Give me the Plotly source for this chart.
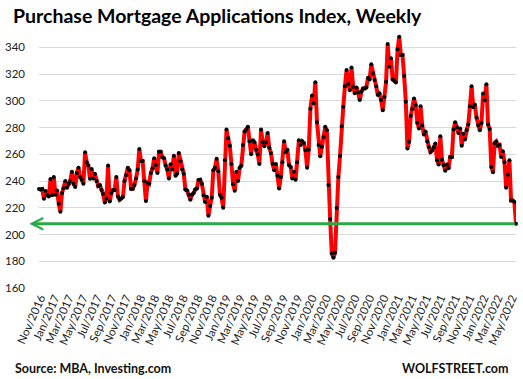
import pandas as pd
import plotly.graph_objects as go

# Weekly MBA Purchase Index values, split by period
idx_part1 = [234, 233.6, 234, 226.7, 232.6, 229.4, 228.4, 241.5, 229.4, 243,
             229.8, 233, 223, 217, 231, 234.6, 240, 235, 237.8, 240,
             247, 238, 235.6, 246, 250, 243, 241, 238, 261.5, 254,
             251.6, 241.7, 249, 242, 245.4, 240, 236.3, 236.8, 233.3, 230.4,
             224, 227, 251.6, 224.7, 231, 233.3, 233.3, 243, 228.4, 226,
             227, 228, 240, 244.4, 250, 248, 234.3, 234.3, 237, 242,
             248.6, 264, 255, 255, 240, 225, 238.8, 238, 246, 249.4,
             257, 252, 246, 262, 262, 257.8, 257, 251.6, 248.6, 242,
             252.6, 248.6, 259, 244, 245.7, 261]
idx_part2 = [255, 248.6, 245.5, 233.7, 233, 229.8, 226, 229.8, 231, 233.7,
             234.5, 240.7, 241, 238, 229.3, 224.3, 228.3, 214, 221.3, 227.5,
             248, 250, 256.6, 247.4, 229.8, 227.5, 220]
idx_part3 = [255.5, 278.5, 272, 266.5, 252.7, 237.7, 232.7, 247, 240, 250,
             251.5, 267, 277, 278.5, 280.7, 269.7, 260, 270.5, 269, 263.5,
             260, 252.7, 278.5, 269, 266, 269, 276, 265, 261, 253,
             248, 252.7, 244, 234.5, 243, 254, 269.7, 261.5, 263.5, 252,
             250.5, 242, 247, 241, 254, 270.5, 267, 269.7, 268.5, 263,
             250, 263.5]
idx_part4 = [294, 304, 298, 314, 284, 267, 258.5, 265.7, 273, 280.6,
             278, 237, 211.6, 185.9, 182.6, 186.4, 219.8, 243, 258.7, 281,
             295.6, 311, 323, 312.6, 308, 325, 310.6, 305.6, 310, 306.3,
             300.6, 306.8, 309.3, 309.3, 310, 317.3, 316, 327.3, 320.5, 315.6,
             311, 304.3, 305.6, 300.6, 293, 303, 314.3, 342.5, 325.5, 331.8,
             316, 315, 313.8, 338.5, 348, 334.3, 334.3, 318.6, 299.4, 264.4,
             269.4, 288.6, 293.9, 301.8, 296.9, 283.6, 279.4]
idx_part5 = [296, 281.5, 274.8, 277, 269.5, 265.5, 261.8, 262.8, 265.3, 268,
             255.5, 252.3, 273.5, 256, 251.8, 247.8, 252.3, 249.5, 258, 258,
             278.5, 284, 280.5, 276, 279.3, 266.5, 275.3, 271, 278, 282.3,
             296, 311, 295.3, 297.3, 287.5, 281.5, 278, 283.5, 305.5, 300.5,
             312.5, 282.3, 279, 250.5, 246.5, 268.3, 269.5, 266.5, 267, 258,
             262.3, 254, 235, 244.8, 255.5, 225.5, 225.5, 224.3, 208]

index_values = idx_part1 + idx_part2 + idx_part3 + idx_part4 + idx_part5
first_week = "2016-10-26"
weeks = pd.date_range(first_week, periods=len(index_values), freq="7D")

# x tick labels (every two months)
tick_dates = pd.date_range("2016-11-01", "2022-05-01", freq="2MS")
tick_labels = [d.strftime("%b/%Y") for d in tick_dates]

y_ticks = list(range(160, 341, 20))
latest_level = 208

FONT = "Lato"
TXT = "#222222"

fig = go.Figure()
fig.add_trace(go.Scatter(
    x=weeks, y=index_values, mode="lines+markers",
    line=dict(color="#FF0000", width=4),
    marker=dict(color="#000000", size=4),
    hoverinfo="x+y", showlegend=False, cliponaxis=False,
))

fig.add_annotation(
    xref="paper", yref="y", x=-9.7 / 477, y=latest_level,
    axref="pixel", ayref="pixel", ax=487, ay=0,
    text="", showarrow=True, arrowhead=5, arrowsize=0.75, arrowwidth=3,
    arrowcolor="#2BA84A",
)

fig.add_annotation(
    xref="paper", yref="paper", x=-26 / 477, y=-80.3 / 253.7,
    xanchor="left", yanchor="middle", showarrow=False,
    text="<b>Source: MBA, Investing.com</b>",
    font=dict(family=FONT, size=12.5, color="#111111"),
)
fig.add_annotation(
    xref="paper", yref="paper", x=(511 - 39) / 477, y=-80.3 / 253.7,
    xanchor="right", yanchor="middle", showarrow=False,
    text="<b>WOLFSTREET.com</b>",
    font=dict(family=FONT, size=12.5, color="#111111"),
)

fig.update_layout(
    width=523, height=379,
    margin=dict(l=39, r=7, t=34, b=91.3),
    paper_bgcolor="white", plot_bgcolor="white",
    font=dict(family=FONT, size=12, color=TXT),
    title=dict(
        text="<b>Purchase Mortgage Applications Index, Weekly</b>",
        x=13 / 523, xanchor="left", xref="container",
        y=1 - 16 / 379, yanchor="middle", yref="container",
        font=dict(family=FONT, size=19.5, color="#000000"),
    ),
    xaxis=dict(
        type="date", range=[weeks[0], weeks[-1]], automargin=False,
        tickvals=tick_dates, ticktext=tick_labels, tickangle=-66,
        showgrid=False, zeroline=False, showline=False, ticks="",
        tickfont=dict(family=FONT, size=11.5, color=TXT),
    ),
    yaxis=dict(
        range=[160, 350], tickvals=y_ticks, automargin=False,
        showgrid=True, gridcolor="#D9D9D9", gridwidth=1,
        zeroline=False, showline=False, ticks="",
        ticklabelstandoff=13,
        tickfont=dict(family=FONT, size=11.5, color=TXT),
    ),
)

fig.write_html("out.html", config={"displayModeBar": False},
               post_script="document.body.style.margin='0';")
